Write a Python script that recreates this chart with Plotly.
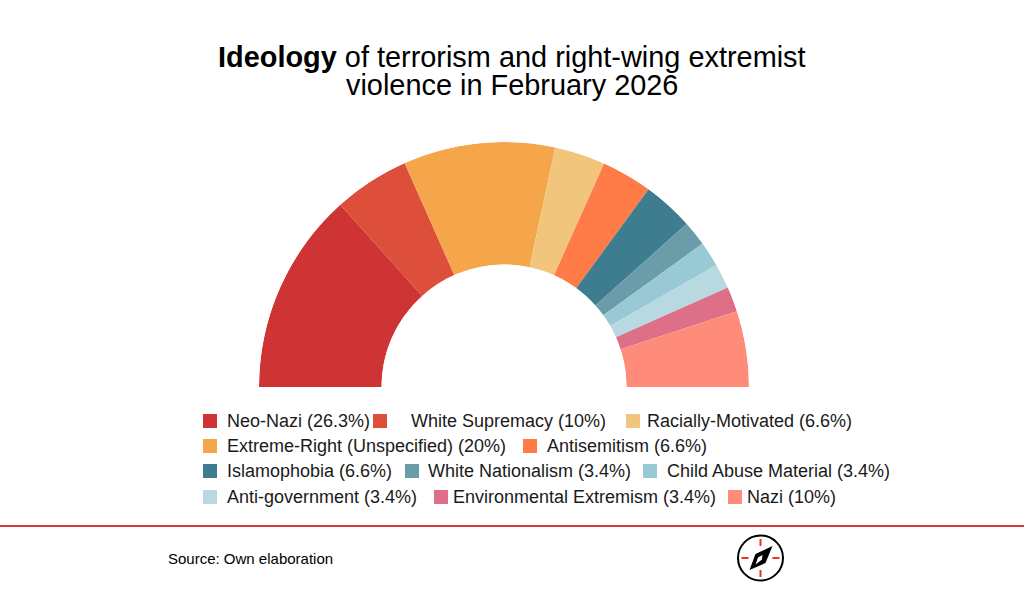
import plotly.graph_objects as go

# ---- data ----
labels = ["Neo-Nazi", "White Supremacy", "Racially-Motivated", "Extreme-Right (Unspecified)",
          "Antisemitism", "Islamophobia", "White Nationalism", "Child Abuse Material",
          "Anti-government", "Environmental Extremism", "Nazi"]
percent_text = ["26.3", "10", "6.6", "20", "6.6", "6.6", "3.4", "3.4", "3.4", "3.4", "10"]
values = [26.7, 10, 6.7, 20, 6.7, 6.7, 3.3, 3.3, 3.3, 3.3, 10]
colors = ["#CF3434", "#DD4F3A", "#F2C57C", "#F5A54A", "#FF7B47", "#3D7D8F",
          "#6A9CAA", "#98C9D5", "#B8D9E0", "#DE6F88", "#FF8B7B"]
slice_order = [0, 1, 3, 2, 4, 5, 6, 7, 8, 9, 10]

W, H = 1024, 594
FONT = "Liberation Sans"
def px(x): return x / W
def py(y): return 1 - y / H

fig = go.Figure()
total = sum(values)
start = 0.0
for i in slice_order:
    span = values[i] / total * 180
    fig.add_trace(go.Barpolar(r=[1], theta=[start + span / 2], width=[span],
                              marker=dict(color=colors[i], line=dict(width=0)),
                              name=labels[i], showlegend=False, hoverinfo="name"))
    start += span

# legend placement: (swatch left, text left, row y)
legend_pos = [(203, 225, 421), (373, 409, 421), (626, 645, 421),
              (203, 225, 446), (523, 545, 446),
              (203, 225, 471), (405, 426, 471), (643, 665, 471),
              (203, 225, 497), (434, 451, 497), (728, 745, 497)]
shapes, annotations = [], []
for lab, pct, col, (sx, tx, y) in zip(labels, percent_text, colors, legend_pos):
    shapes.append(dict(type="rect", xref="paper", yref="paper", x0=px(sx), x1=px(sx + 14),
                       y0=py(y + 7), y1=py(y - 7), fillcolor=col, line=dict(width=0)))
    annotations.append(dict(text=f"{lab} ({pct}%)", xref="paper", yref="paper", x=px(tx), y=py(y),
                            xanchor="left", yanchor="middle", showarrow=False,
                            font=dict(family=FONT, size=18, color="#1a1a1a")))

for line, y in [("<b>Ideology</b> of terrorism and right-wing extremist", 57), ("violence in February 2026", 85)]:
    annotations.append(dict(text=line, xref="paper", yref="paper", x=px(512), y=py(y),
                            xanchor="center", yanchor="middle", showarrow=False,
                            font=dict(family=FONT, size=28.9, color="#000000")))
annotations.append(dict(text="Source: Own elaboration", xref="paper", yref="paper", x=px(166), y=py(558),
                        xanchor="left", yanchor="middle", showarrow=False,
                        font=dict(family=FONT, size=15, color="#000000")))

# rule under the legend
shapes.append(dict(type="line", xref="paper", yref="paper", x0=0, x1=1, y0=py(526), y1=py(526),
                   line=dict(color="#D63A32", width=2)))

# compass logo
cx, cy, r = 760.5, 558, 22.5
shapes.append(dict(type="circle", xref="paper", yref="paper", x0=px(cx - r), x1=px(cx + r),
                   y0=py(cy + r), y1=py(cy - r), line=dict(color="#000000", width=2), fillcolor="white"))
for dx0, dy0, dx1, dy1 in [(0, -19, 0, -12), (0, 12, 0, 19), (-19, 0, -12, 0), (12, 0, 19, 0)]:
    shapes.append(dict(type="line", xref="paper", yref="paper", x0=px(cx + dx0), x1=px(cx + dx1),
                       y0=py(cy + dy0), y1=py(cy + dy1), line=dict(color="#E5352B", width=2)))
def needle(pts, fill, lw=0, lc="#000"):
    p = " ".join(("M" if k == 0 else "L") + f"{px(cx + a):.5f},{py(cy + b):.5f}" for k, (a, b) in enumerate(pts)) + " Z"
    return dict(type="path", xref="paper", yref="paper", path=p, fillcolor=fill, line=dict(width=lw, color=lc))
shapes.append(needle([(12, -12), (5, 5), (-11, 12), (-5, -4)], "#000000"))
shapes.append(needle([(-2.5, -0.5), (2, -3), (1.5, 1.5), (-5, 6.5)], "#FFFFFF"))

fig.update_layout(
    width=W, height=H, margin=dict(l=0, r=0, t=0, b=0),
    paper_bgcolor="white", plot_bgcolor="white", showlegend=False,
    polar=dict(domain=dict(x=[px(259), px(749)], y=[py(387), py(142)]),
               sector=[0, 180], hole=0.5, bgcolor="white", gridshape="circular",
               radialaxis=dict(range=[0, 1], visible=False, showgrid=False),
               angularaxis=dict(direction="clockwise", rotation=180, visible=False, showgrid=False,
                                thetaunit="degrees")),
    bargap=0, shapes=shapes, annotations=annotations,
)
fig.write_html("out.html", config=dict(displayModeBar=False),
               post_script="document.body.style.margin='0';")
